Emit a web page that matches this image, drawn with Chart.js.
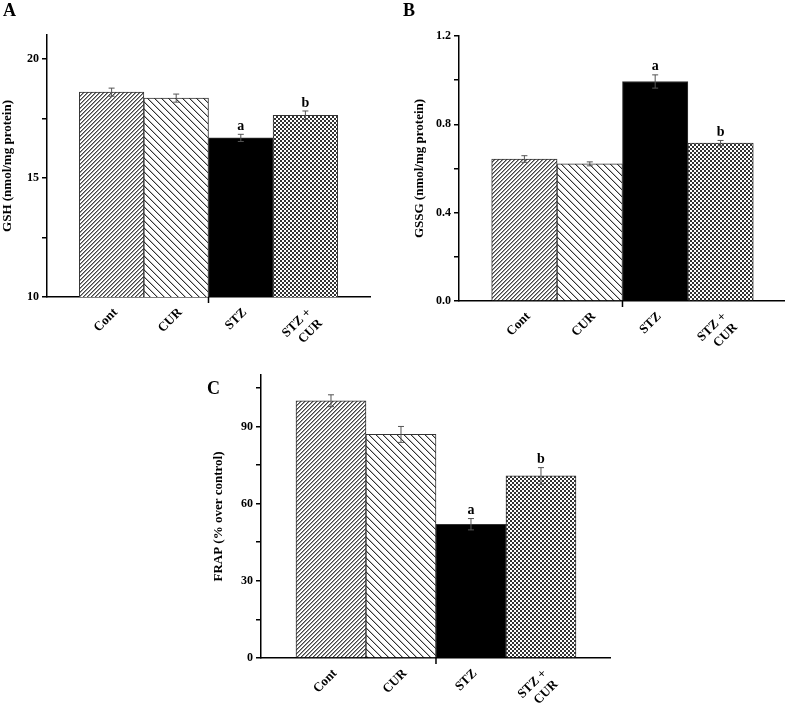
<!DOCTYPE html>
<html>
<head>
<meta charset="utf-8">
<script src="https://cdn.jsdelivr.net/npm/chart.js@4"></script>
<style>
  body { margin: 0; background: #fff; }
  #page { position: relative; width: 785px; height: 712px; overflow: hidden; }
  .panel { position: absolute; }
  .letter { position: absolute; font: bold 18px 'Liberation Serif', serif; color: #000; }
</style>
</head>
<body>
<div id="page">
  <div class="panel" style="left:0;top:0;width:390px;height:360px"><canvas id="chartA"></canvas></div>
  <div class="panel" style="left:390px;top:0;width:407px;height:360px"><canvas id="chartB"></canvas></div>
  <div class="panel" style="left:200px;top:350px;width:422px;height:362px"><canvas id="chartC"></canvas></div>
  <div class="letter" style="left:3px;top:0px">A</div>
  <div class="letter" style="left:403px;top:0px">B</div>
  <div class="letter" style="left:207px;top:378px">C</div>
</div>
<script>
'use strict';

// ---------------- data ----------------
const groups = ['Cont', 'CUR', 'STZ', 'STZ + CUR'];
const sigLetters = ['', '', 'a', 'b'];

const gshMean = [18.6, 18.35, 16.68, 17.63];
const gshErr = [0.17, 0.17, 0.15, 0.18];
const gshTicks = [10, 12.5, 15, 17.5, 20];
const gshLabels = [10, 15, 20];

const gssgMean = [0.643, 0.621, 0.994, 0.715];
const gssgErr = [0.015, 0.009, 0.03, 0.012];
const gssgTicks = [0, 0.2, 0.4, 0.6, 0.8, 1.0, 1.2];
const gssgLabels = [0, 0.4, 0.8, 1.2];

const frapMean = [100, 86.9, 52, 70.8];
const frapErr = [2.3, 3.1, 2.2, 3.2];
const frapTicks = [0, 15, 30, 45, 60, 75, 90, 105];
const frapLabels = [0, 30, 60, 90];

// ---------------- fill patterns ----------------
function makePattern(kind) {
  const c = document.createElement('canvas');
  const ctx = c.getContext('2d');
  if (kind === 'fwd') {
    c.width = 4; c.height = 4;
    ctx.fillStyle = '#fff'; ctx.fillRect(0, 0, 4, 4);
    for (let i = 0; i < 4; i++) {
      ctx.fillStyle = '#444'; ctx.fillRect(i, 3 - i, 1, 1);
      ctx.fillStyle = '#999'; ctx.fillRect((i + 1) % 4, 3 - i, 1, 1);
    }
  } else if (kind === 'back') {
    c.width = 7; c.height = 7;
    ctx.fillStyle = '#fff'; ctx.fillRect(0, 0, 7, 7);
    for (let i = 0; i < 7; i++) {
      ctx.fillStyle = '#333'; ctx.fillRect(i, i, 1, 1);
      ctx.fillStyle = '#bbb'; ctx.fillRect((i + 1) % 7, i, 1, 1);
    }
  } else if (kind === 'check') {
    c.width = 4; c.height = 4;
    ctx.fillStyle = '#fff'; ctx.fillRect(0, 0, 4, 4);
    ctx.fillStyle = '#333';
    ctx.fillRect(0, 0, 2, 2);
    ctx.fillRect(2, 2, 2, 2);
  } else {
    return '#000';
  }
  return ctx.createPattern(c, 'repeat');
}
const barFills = [makePattern('fwd'), makePattern('back'), makePattern('solid'), makePattern('check')];

// ---------------- plugins ----------------
const errorBars = {
  id: 'errorBars',
  afterDatasetsDraw(chart, args, opts) {
    const ctx = chart.ctx;
    const yScale = chart.scales.y;
    const meta = chart.getDatasetMeta(0);
    ctx.save();
    meta.data.forEach((bar, i) => {
      const v = opts.means[i], e = opts.errs[i];
      const top = yScale.getPixelForValue(v + e);
      const bot = yScale.getPixelForValue(v - e);
      ctx.strokeStyle = '#555';
      ctx.lineWidth = 1;
      ctx.beginPath();
      ctx.moveTo(bar.x, top); ctx.lineTo(bar.x, bot);
      ctx.moveTo(bar.x - 3, top); ctx.lineTo(bar.x + 3, top);
      ctx.moveTo(bar.x - 3, bot); ctx.lineTo(bar.x + 3, bot);
      ctx.stroke();
      if (sigLetters[i]) {
        ctx.fillStyle = '#000';
        ctx.font = "bold 14px 'Liberation Serif'";
        ctx.textAlign = 'center';
        ctx.textBaseline = 'bottom';
        ctx.fillText(sigLetters[i], bar.x, top - 1);
      }
    });
    // the single tick mark under the x axis, between CUR and STZ
    const xScale = chart.scales.x;
    const mx = xScale.getPixelForValue(2.5);
    ctx.strokeStyle = '#000';
    ctx.lineWidth = 1.5;
    ctx.beginPath();
    ctx.moveTo(mx, chart.chartArea.bottom);
    ctx.lineTo(mx, chart.chartArea.bottom + 6);
    ctx.stroke();
    ctx.restore();
  }
};

function buildChart(id, means, errs, yMin, yMax, yTicks, yLabels, yTitle, fmt, box) {
  return new Chart(document.getElementById(id), {
    type: 'bar',
    data: {
      datasets: [{
        data: means.map((v, i) => ({ x: i + 1, y: v })),
        backgroundColor: barFills,
        borderColor: '#333',
        borderWidth: 1,
        barPercentage: 1,
        categoryPercentage: 1
      }]
    },
    plugins: [errorBars],
    options: {
      responsive: true,
      maintainAspectRatio: false,
      animation: false,
      layout: { padding: { top: box.top, right: box.right, left: 0, bottom: 0 } },
      plugins: {
        legend: { display: false },
        tooltip: { enabled: false },
        errorBars: { means: means, errs: errs }
      },
      scales: {
        x: {
          type: 'linear',
          offset: false,
          min: 0,
          max: 5,
          afterBuildTicks: (s) => { s.ticks = [0, 1, 2, 3, 4, 5].map(v => ({ value: v })); },
          afterFit: (s) => { s.height = box.xh; },
          grid: { display: false, offset: false },
          border: { display: true, color: '#000', width: 1.5 },
          ticks: {
            autoSkip: false,
            minRotation: 45,
            maxRotation: 45,
            padding: 0,
            labelOffset: 4,
            color: '#000',
            font: { family: 'Liberation Serif', weight: 'bold', size: 13 },
            callback: (v) => {
              const g = groups[v - 1];
              if (!g) return '';
              return g.includes(' + ') ? ['STZ +', 'CUR'] : g;
            }
          }
        },
        y: {
          min: yMin,
          max: yMax,
          afterBuildTicks: (s) => { s.ticks = yTicks.map(v => ({ value: v })); },
          afterFit: (s) => { s.width = box.yw; },
          grid: { display: true, drawOnChartArea: false, drawTicks: true, tickLength: 5, color: '#000', lineWidth: 1.5 },
          border: { display: true, color: '#000', width: 1.5 },
          ticks: {
            padding: 3,
            color: '#000',
            font: { family: 'Liberation Serif', weight: 'bold', size: 12 },
            callback: (v) => yLabels.some(l => Math.abs(l - v) < 1e-9) ? fmt(v) : ''
          },
          title: {
            display: true,
            text: yTitle,
            color: '#000',
            padding: { top: box.tp, bottom: 0 },
            font: { family: 'Liberation Serif', weight: 'bold', size: 13 }
          }
        }
      }
    }
  });
}

buildChart('chartA', gshMean, gshErr, 10, 21, gshTicks, gshLabels, 'GSH (nmol/mg protein)',
  v => String(v), { top: 35, right: 20, xh: 63, yw: 47, tp: 0 });
buildChart('chartB', gssgMean, gssgErr, 0, 1.2, gssgTicks, gssgLabels, 'GSSG (nmol/mg protein)',
  v => v.toFixed(1), { top: 36, right: 0, xh: 59, yw: 69, tp: 22 });
buildChart('chartC', frapMean, frapErr, 0, 110, frapTicks, frapLabels, 'FRAP (% over control)',
  v => String(v), { top: 25, right: 0, xh: 54, yw: 61, tp: 11 });
</script>
</body>
</html>
